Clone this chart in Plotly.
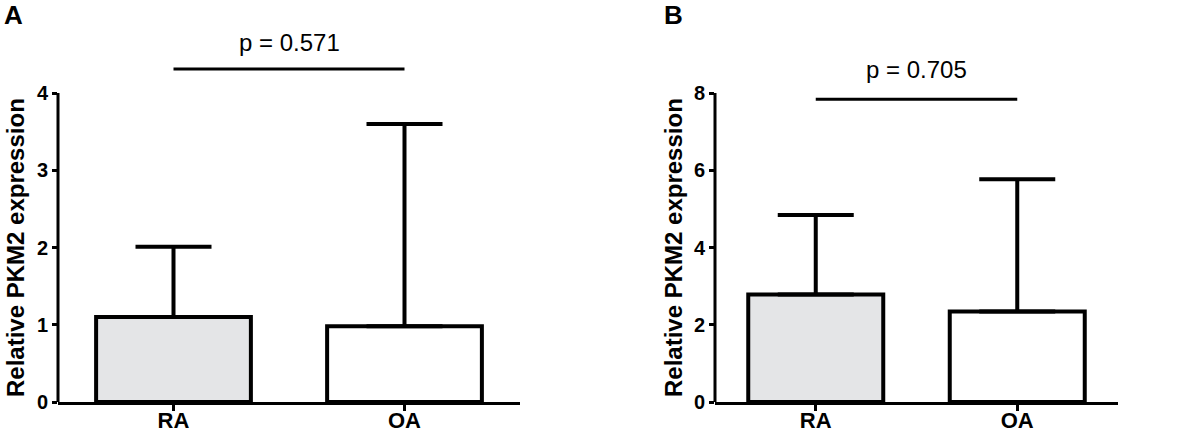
import plotly.graph_objects as go

# Data
groups = ["RA", "OA"]
mean_a = [1.10, 0.98]
sd_a = [0.91, 2.62]
mean_b = [2.78, 2.34]
sd_b = [2.06, 3.43]
p_text = ["p = 0.571", "p = 0.705"]
# height of the significance bracket and its label, in data units
bracket_y = [4.31, 7.84]
label_y = [4.65, 8.6]
y_top = [4, 8]
y_ticks_a = [0, 1, 2, 3, 4]
y_ticks_b = [0, 2, 4, 6, 8]

FONT = "Liberation Sans, Arial, sans-serif"
fills = ["#e4e5e7", "#ffffff"]

W, H = 1194, 434
# pixel geometry of the panels
ZERO_PX = 402
TOP_PX = 93

fig = go.Figure()

panels = [
    ("x", "y", mean_a, sd_a),
    ("x2", "y2", mean_b, sd_b),
]
for i, (xa, ya, means, sds) in enumerate(panels):
    fig.add_trace(go.Bar(
        x=groups, y=means, xaxis=xa, yaxis=ya,
        width=0.67,
        marker=dict(color=fills, line=dict(color="black", width=4)),
        error_y=dict(type="data", array=sds, arrayminus=[0] * len(sds),
                     symmetric=False, color="black", thickness=4, width=38),
        showlegend=False, hoverinfo="skip",
    ))
    fig.add_trace(go.Scatter(
        x=groups, y=[bracket_y[i]] * 2, xaxis=xa, yaxis=ya,
        mode="lines", line=dict(color="black", width=3),
        showlegend=False, hoverinfo="skip",
    ))
    # p value label between the two groups
    fig.add_annotation(
        x=0.5, y=label_y[i], xref=xa, yref=ya, text=p_text[i],
        showarrow=False, font=dict(family=FONT, size=24, color="black"),
        xanchor="center", yanchor="middle",
    )
    # left axis line only up to the top tick
    fig.add_shape(
        type="line", xref=f"{xa} domain", yref=ya,
        x0=0, x1=0, y0=0, y1=y_top[i],
        line=dict(color="black", width=3),
    )

y0_paper = (H - ZERO_PX) / H
px_per_unit_a = (ZERO_PX - TOP_PX) / y_top[0]
px_per_unit_b = (ZERO_PX - TOP_PX) / y_top[1]

common_x = dict(
    type="category", range=[-0.5, 1.5], showline=True, linecolor="black",
    linewidth=3, ticks="outside", ticklen=6, tickwidth=2.5, tickcolor="black",
    ticklabelstandoff=-9, automargin=False,
    tickfont=dict(family=FONT, size=22, color="black", weight="bold"),
    showgrid=False, zeroline=False, fixedrange=True,
)
common_y = dict(
    showline=False, ticks="outside", ticklen=5, tickwidth=2.5,
    tickcolor="black", showgrid=False, zeroline=False, automargin=False,
    domain=[y0_paper, 1], fixedrange=True,
    tickfont=dict(family=FONT, size=20, color="black", weight="bold"),
)

fig.update_layout(
    width=W, height=H,
    margin=dict(l=0, r=0, t=0, b=0, autoexpand=False),
    paper_bgcolor="white", plot_bgcolor="rgba(0,0,0,0)",
    xaxis=dict(common_x, domain=[58 / W, 520 / W], anchor="y"),
    xaxis2=dict(common_x, domain=[715 / W, 1118 / W], anchor="y2"),
    yaxis=dict(common_y, range=[0, ZERO_PX / px_per_unit_a],
               tickvals=y_ticks_a, anchor="x"),
    yaxis2=dict(common_y, range=[0, ZERO_PX / px_per_unit_b],
                tickvals=y_ticks_b, anchor="x2"),
)

# axis titles and panel letters
for xc in [15, 673]:
    fig.add_annotation(
        x=xc / W, y=(H - 248) / H, xref="paper", yref="paper",
        text="<b>Relative PKM2 expression</b>", textangle=-90,
        showarrow=False, xanchor="center", yanchor="middle",
        font=dict(family=FONT, size=24, color="black"),
    )
for letter, xc in [("A", 13), ("B", 673)]:
    fig.add_annotation(
        x=xc / W, y=(H - 15) / H, xref="paper", yref="paper",
        text=f"<b>{letter}</b>", showarrow=False,
        xanchor="center", yanchor="middle",
        font=dict(family=FONT, size=26, color="black"),
    )

# keep the page exactly the size of the figure
page_fix = (
    "document.documentElement.style.margin='0';"
    "document.documentElement.style.overflow='hidden';"
    "document.body.style.margin='0';"
    "document.body.style.overflow='hidden';"
    "document.body.style.lineHeight='0';"
    "var gd=document.getElementById('{plot_id}');"
    "gd.style.overflow='hidden';"
)
fig.write_html("out.html", config={"displayModeBar": False},
               post_script=page_fix)
